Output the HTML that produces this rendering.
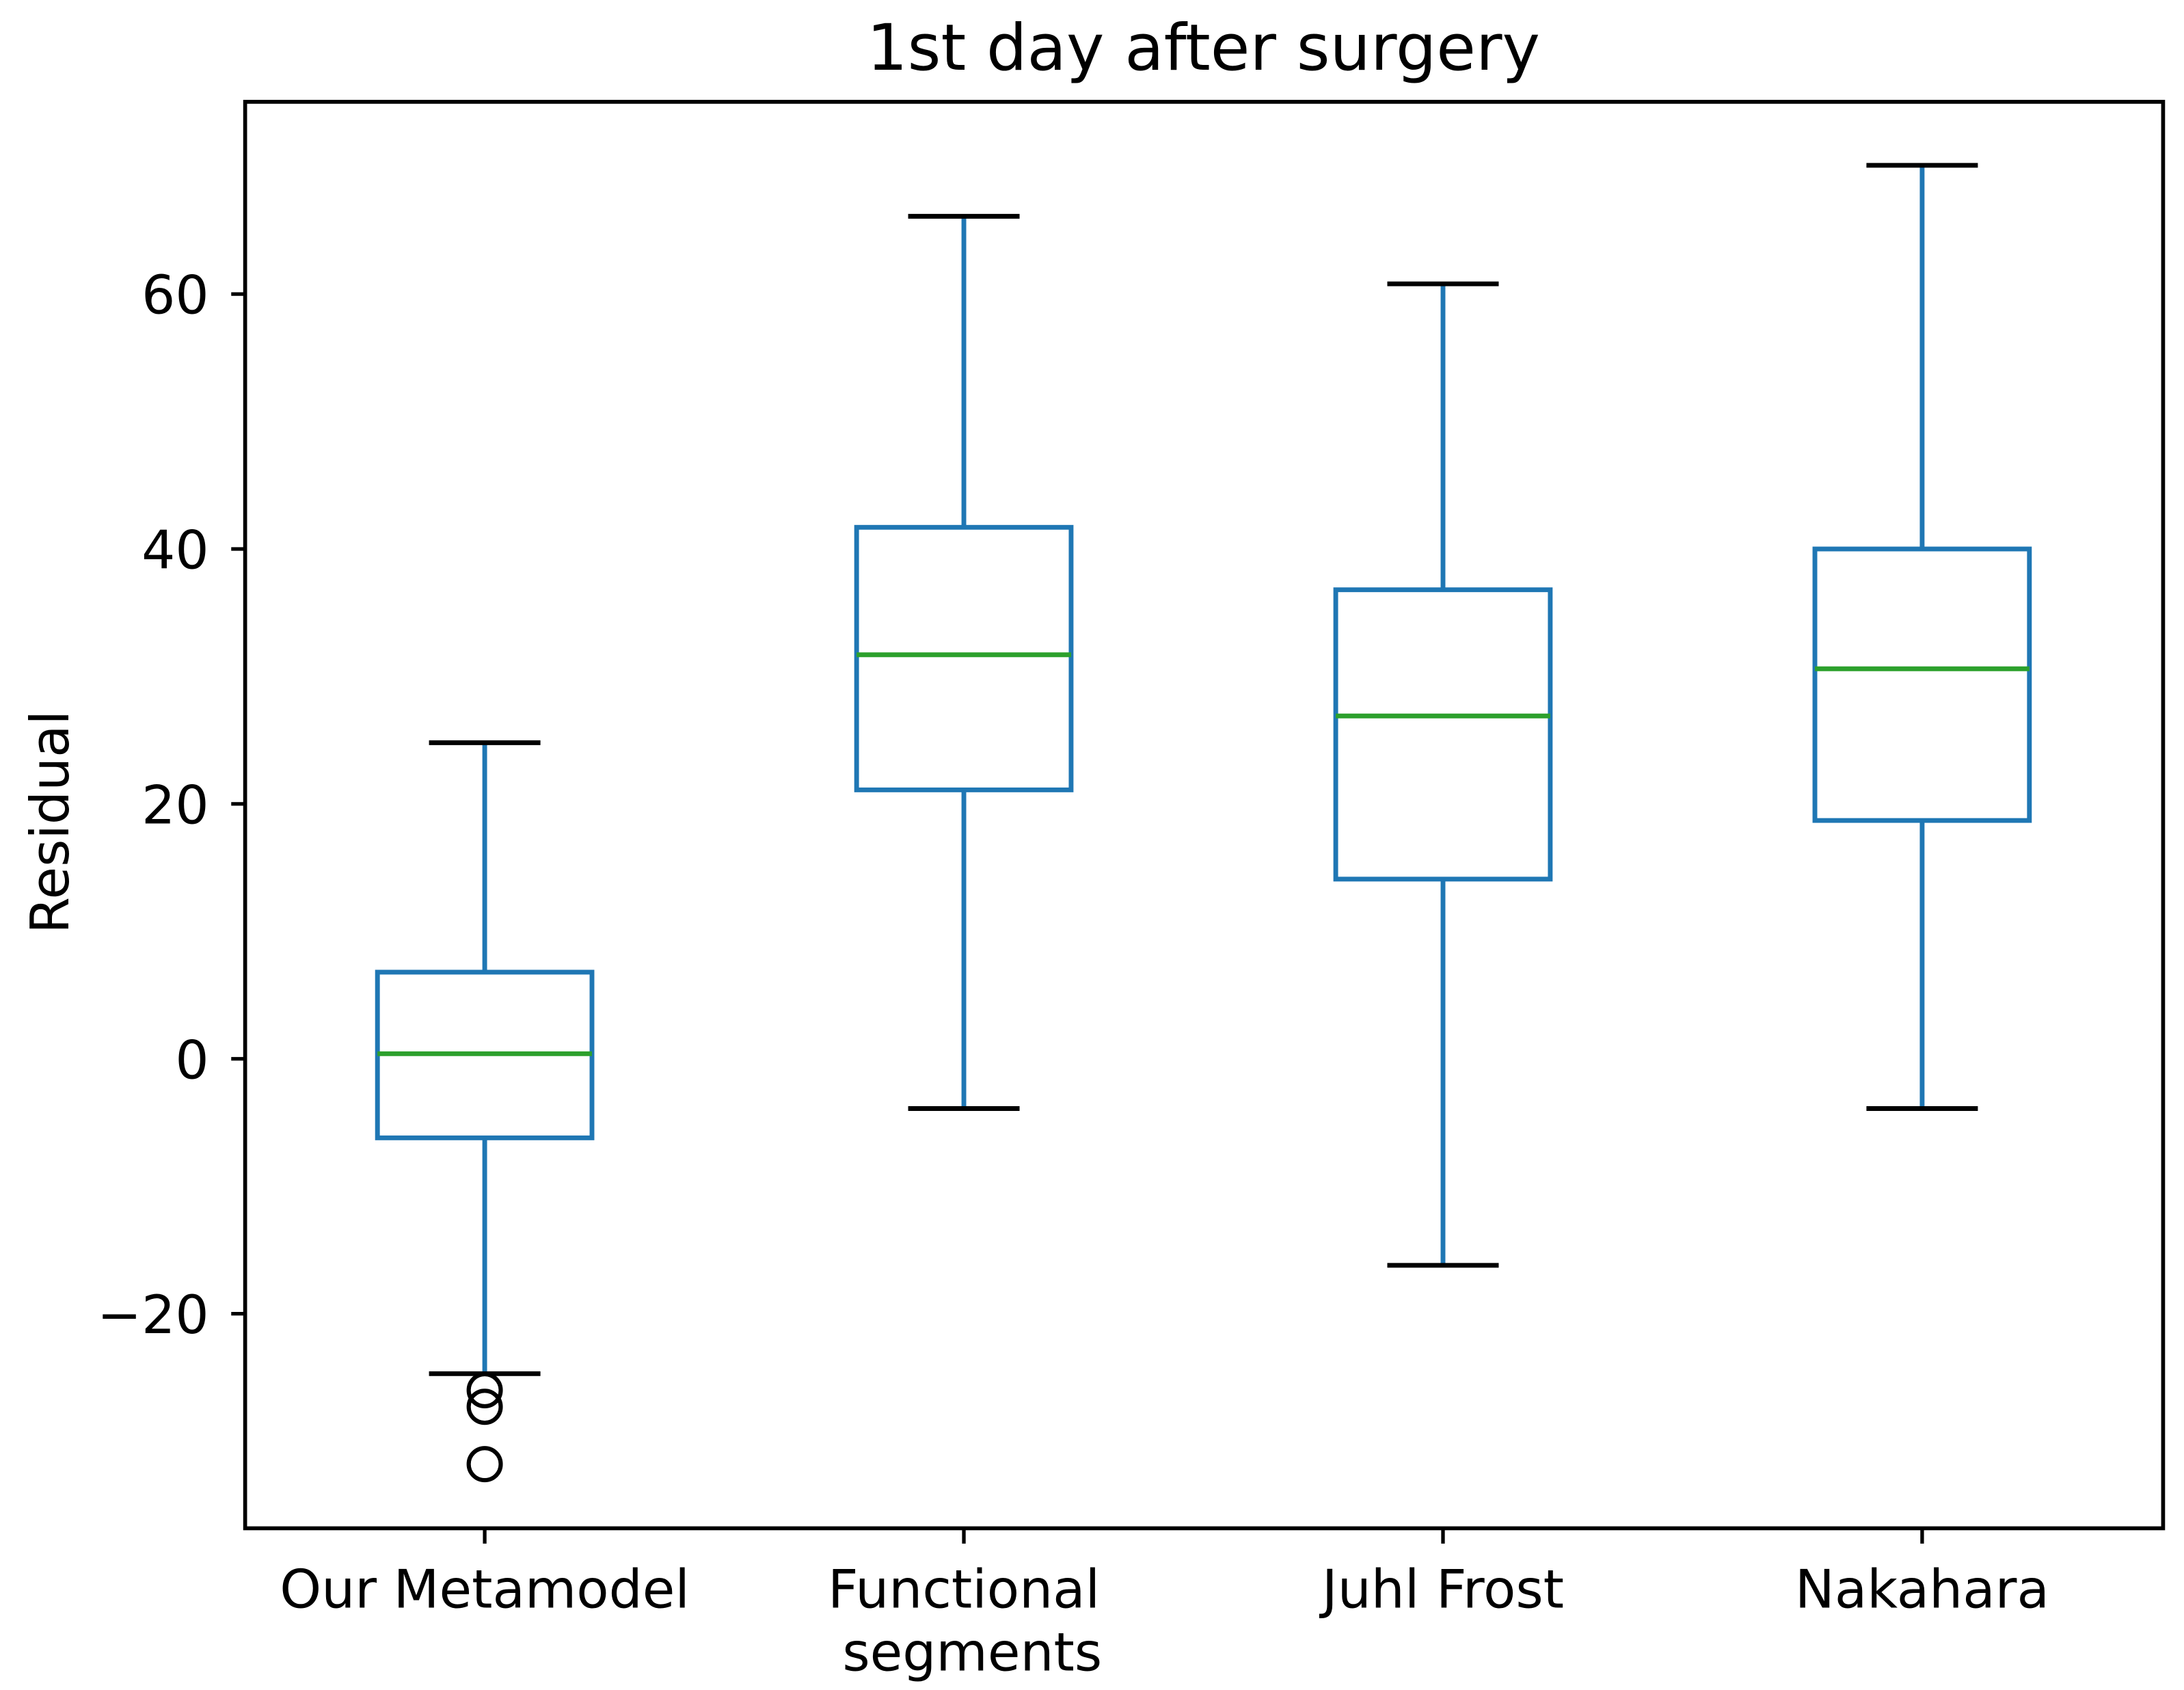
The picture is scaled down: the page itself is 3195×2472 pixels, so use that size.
<!DOCTYPE html>
<html><head><meta charset="utf-8"><style>html,body{margin:0;padding:0;background:#fff}svg{display:block}</style></head>
<body>
<svg id="chart" width="3195" height="2472" viewBox="0 0 1568 1213" xmlns="http://www.w3.org/2000/svg" font-family="DejaVu Sans, Liberation Sans, sans-serif">
<text x="864" y="50" font-size="46" text-anchor="middle" fill="#000">1st day after surgery</text>
<text transform="translate(49,590) rotate(-90)" font-size="38" text-anchor="middle" fill="#000">Residual</text>
<g id="plot"></g>
<rect x="176" y="73" width="1377" height="1024" fill="none" stroke="#000" stroke-width="2.8"/>
</svg>
<script>
const categories = ["Our Metamodel", "Functional|segments", "Juhl Frost", "Nakahara"];
const whiskerHigh = [24.8, 66.1, 60.8, 70.1];
const q3Values = [6.8, 41.7, 36.8, 40.0];
const medians = [0.4, 31.7, 26.9, 30.6];
const q1Values = [-6.2, 21.1, 14.1, 18.7];
const whiskerLow = [-24.7, -3.9, -16.2, -3.9];
const outliers = [[-26.0, -27.3, -31.8], [], [], []];
const yTicks = [-20, 0, 20, 40, 60];
const yTickLabels = ["\u221220", "0", "20", "40", "60"];

const NS = "http://www.w3.org/2000/svg";
const g = document.getElementById("plot");
const y = v => 760 - v * 9.15;
const x = i => 348 + i * 344;
function mk(tag, attrs, parent) {
  const e = document.createElementNS(NS, tag);
  for (const k in attrs) e.setAttribute(k, attrs[k]);
  (parent || g).appendChild(e);
  return e;
}
yTicks.forEach((t, i) => {
  const l = mk("line", {x1: 176, x2: 166, y1: y(t), y2: y(t), stroke: "#000", "stroke-width": 2.6});
  
  
  const tx = mk("text", {x: 150, y: y(t) + 14, "font-size": 38, "text-anchor": "end", fill: "#000"});
  tx.textContent = yTickLabels[i];
  
  
});
const blue = "#1f77b4", w = 3.4;
categories.forEach((c, i) => {
  const cx = x(i);
  const grp = mk("g", {});
  
  
  mk("line", {x1: cx, x2: cx, y1: y(q3Values[i]), y2: y(whiskerHigh[i]), stroke: blue, "stroke-width": w}, grp);
  mk("line", {x1: cx, x2: cx, y1: y(q1Values[i]), y2: y(whiskerLow[i]), stroke: blue, "stroke-width": w}, grp);
  mk("line", {x1: cx - 40, x2: cx + 40, y1: y(whiskerHigh[i]), y2: y(whiskerHigh[i]), stroke: "#000", "stroke-width": w}, grp);
  mk("line", {x1: cx - 40, x2: cx + 40, y1: y(whiskerLow[i]), y2: y(whiskerLow[i]), stroke: "#000", "stroke-width": w}, grp);
  mk("rect", {x: cx - 77, y: y(q3Values[i]), width: 154, height: y(q1Values[i]) - y(q3Values[i]), fill: "none", stroke: blue, "stroke-width": w}, grp);
  mk("line", {x1: cx - 77, x2: cx + 77, y1: y(medians[i]), y2: y(medians[i]), stroke: "#2ca02c", "stroke-width": w}, grp);
  outliers[i].forEach(o => {
    const ci = mk("circle", {cx: cx, cy: y(o), r: 11.5, fill: "none", stroke: "#000", "stroke-width": 3}, grp);
    
    
  });
  const tk = mk("line", {x1: cx, x2: cx, y1: 1097, y2: 1108, stroke: "#000", "stroke-width": 2.6});
  
  
  c.split("|").forEach((ln, j) => {
    const tx = mk("text", {x: cx + (j ? 6 : 0), y: 1154 + j * 45, "font-size": 38, "text-anchor": "middle", fill: "#000"});
    tx.textContent = ln;
    
    
  });
});
</script>
</body></html>
